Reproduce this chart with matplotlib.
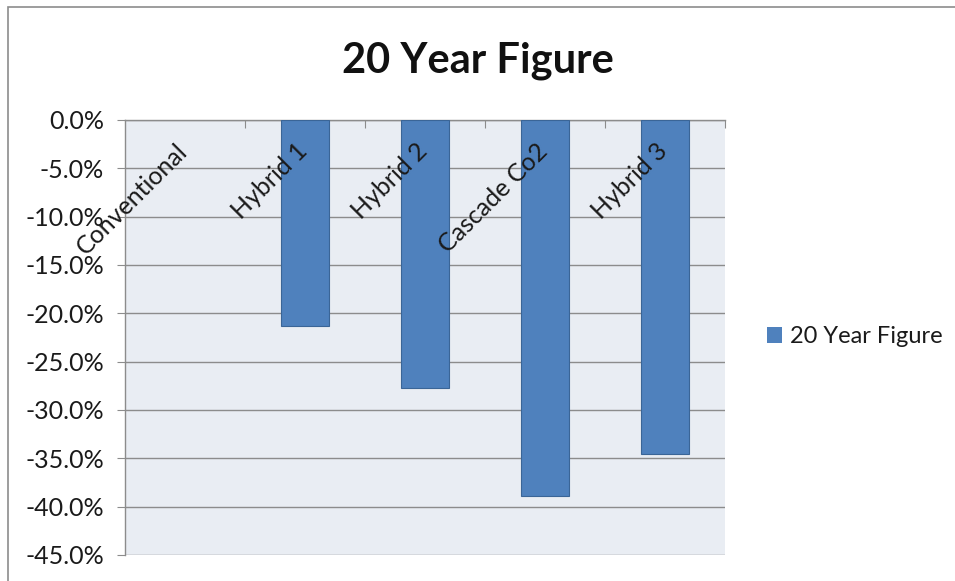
import matplotlib.pyplot as plt
from matplotlib.patches import Rectangle
from matplotlib.ticker import FuncFormatter

categories = ['Conventional', 'Hybrid 1', 'Hybrid 2', 'Cascade Co2', 'Hybrid 3']
values = [0.0, -21.3, -27.7, -38.9, -34.6]
series_name = '20 Year Figure'
y_ticks = [0, -5, -10, -15, -20, -25, -30, -35, -40, -45]

plt.rcParams['font.family'] = ['Lato', 'DejaVu Sans']

fig = plt.figure(figsize=(9.55, 5.81), dpi=100)
ax = fig.add_axes([0.1309, 0.0448, 0.6283, 0.7487])

# outer chart frame
fig.patches.append(Rectangle((0.008, -0.05), 1.2, 1.038, transform=fig.transFigure,
                             fill=False, edgecolor='#8c8c8c', linewidth=1.2))

ax.set_facecolor('#e9edf3')
x = range(len(categories))
edge_widths = [0.8 if v != 0 else 0 for v in values]
ax.bar(x, values, width=0.4, color='#4f81bd', edgecolor='#3a6597',
       linewidth=edge_widths, label=series_name, zorder=3)

ax.set_xlim(-0.5, len(categories) - 0.5)
ax.set_ylim(-45, 0)
ax.set_yticks(y_ticks)
ax.yaxis.set_major_formatter(FuncFormatter(lambda v, p: f'{v:.1f}%' if v != 0 else '0.0%'))
ax.tick_params(axis='y', direction='out', length=6, color='#8c8c8c',
               labelsize=18, labelcolor='#1a1a1a', pad=9)
ax.yaxis.grid(True, color='#8c8c8c', linewidth=1.0, zorder=1)
ax.set_axisbelow(True)

# category boundaries as ticks on the top (zero) axis
ax.xaxis.tick_top()
ax.set_xticks([i + 0.5 for i in x])
ax.set_xticklabels([])
ax.tick_params(axis='x', direction='in', length=6, color='#8c8c8c')

for side in ['right', 'bottom']:
    ax.spines[side].set_visible(False)
for side in ['left', 'top']:
    ax.spines[side].set_color('#8c8c8c')
    ax.spines[side].set_linewidth(1.0)

for i, name in enumerate(categories):
    ax.annotate(name, xy=(i, 0), xytext=(5, -14), textcoords='offset points',
                rotation=45, ha='right', va='top', fontsize=18, color='#1a1a1a')

fig.text(0.5, 0.895, '20 Year Figure', ha='center', va='center',
         fontsize=30, fontweight='bold', color='#111111')

fig.legend(loc='center left', bbox_to_anchor=(0.781, 1 - 337 / 581), frameon=False,
           fontsize=17, handlelength=0.65, handleheight=0.65, handletextpad=0.3,
           labelcolor='#1a1a1a')

fig.savefig('out.png', dpi=100)
